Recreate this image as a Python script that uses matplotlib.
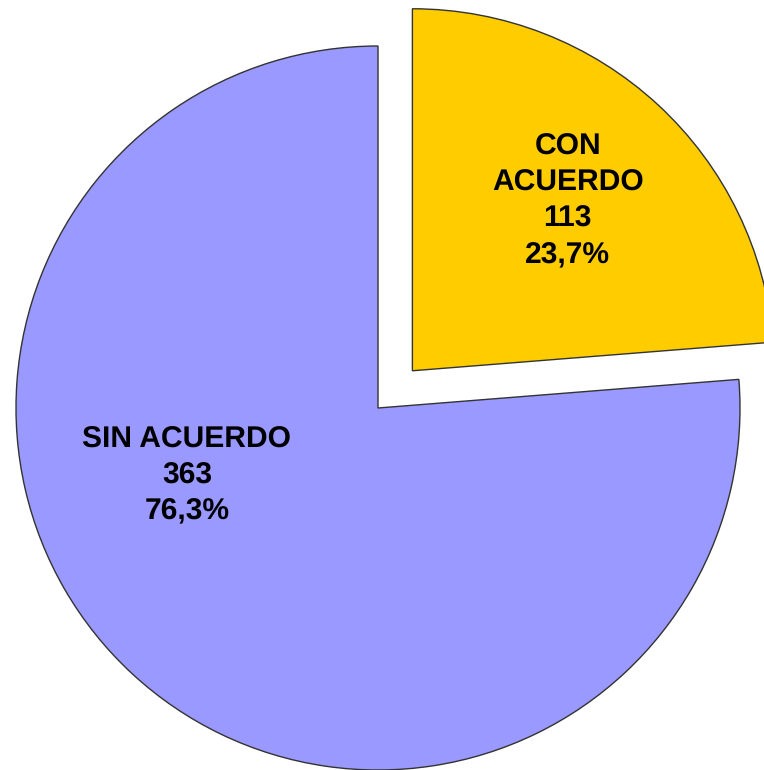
import numpy as np
import matplotlib.pyplot as plt

plt.rcParams["text.hinting"] = "no_hinting"

categories = ["CON\nACUERDO", "SIN ACUERDO"]
counts = [113, 363]
percents = ["23,7%", "76,3%"]
colors = ["#FFCC00", "#9999FF"]

# label spots: (distance from wedge centre, angle in degrees)
label_pos = [(0.635, 47.5), (0.56, 199.5)]

fig = plt.figure(figsize=(7.64, 7.70), dpi=100)
ax = fig.add_axes([0, 0, 1, 1])

wedges, _ = ax.pie(counts, colors=colors, startangle=90, counterclock=False,
                   explode=[0.14, 0], radius=1,
                   wedgeprops=dict(edgecolor="#333333", linewidth=1.0))

for w, cat, n, p, (d, a) in zip(wedges, categories, counts, percents, label_pos):
    cx, cy = w.center
    t = np.deg2rad(a)
    ax.text(cx + d * np.cos(t), cy + d * np.sin(t), f"{cat}\n{n}\n{p}",
            ha="center", va="center", multialignment="center",
            fontsize=21.6, fontweight="bold", family="Liberation Sans",
            linespacing=1.37, color="black")

s = 362.0  # pixels per unit
ax.set_xlim(-378 / s, (764 - 378) / s)
ax.set_ylim(-(770 - 408) / s, 408 / s)
ax.set_aspect("auto")
ax.axis("off")

fig.savefig("out.png", dpi=100)
